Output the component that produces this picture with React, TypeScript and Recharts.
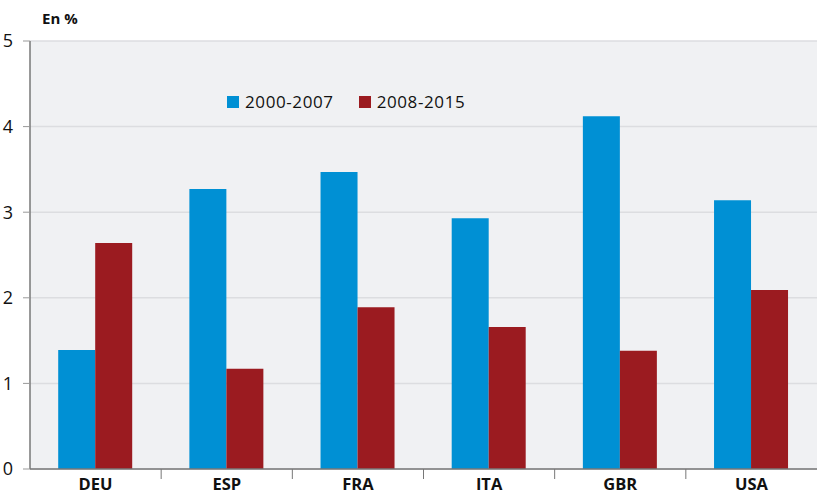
import { BarChart, Bar, XAxis, YAxis, CartesianGrid, Legend } from 'recharts'

const countries = ['DEU', 'ESP', 'FRA', 'ITA', 'GBR', 'USA']
const period1 = [1.39, 3.27, 3.47, 2.93, 4.12, 3.14]
const period2 = [2.64, 1.17, 1.89, 1.66, 1.38, 2.09]
const yTicks = [0, 1, 2, 3, 4, 5]

const data = countries.map((c, i) => ({ name: c, p1: period1[i], p2: period2[i] }))

const FONT = '"Open Sans", sans-serif'
const BAND = (817 - 30) / countries.length

function XTick(props: any) {
  const { x, y, payload, index } = props
  return (
    <g>
      <text x={x} y={y + 13} textAnchor="middle" fontFamily={FONT} fontWeight={700} fontSize={16.5} fill="#111">
        {payload.value}
      </text>
      {index < countries.length - 1 && (
        <line x1={x + BAND / 2} x2={x + BAND / 2} y1={y - 8} y2={y + 2} stroke="#777" strokeWidth={1} />
      )}
    </g>
  )
}

function LegendContent(props: any) {
  const items = props.payload || []
  return (
    <div style={{ display: 'flex', alignItems: 'center', fontFamily: FONT, fontSize: 17, letterSpacing: 0.6, color: '#111' }}>
      {items.map((it: any, i: number) => (
        <div key={it.value} style={{ display: 'flex', alignItems: 'center', marginRight: i === 0 ? 25 : 0 }}>
          <span style={{ width: 12, height: 12, background: it.color, display: 'inline-block', marginRight: 6 }} />
          <span>{it.value}</span>
        </div>
      ))}
    </div>
  )
}

export default function App() {
  return (
    <div style={{ position: 'absolute', left: 0, top: 0, width: 817, height: 495, background: '#fff' }}>
      <div style={{ position: 'absolute', left: 42, top: 8, fontFamily: FONT, fontWeight: 700, fontSize: 15, color: '#111' }}>
        En %
      </div>
      <BarChart
        width={817}
        height={495}
        data={data}
        margin={{ top: 41, right: 0, left: 0, bottom: 0 }}
        barCategoryGap="21.5%"
        barGap={0}
      >
        <CartesianGrid vertical={false} fill="#f0f1f3" stroke="#dcdde0" strokeWidth={1.5} />
        <XAxis
          dataKey="name"
          tick={<XTick />}
          tickLine={false}
          axisLine={{ stroke: '#777', strokeWidth: 1.5 }}
          interval={0}
          height={26}
        />
        <YAxis
          domain={[0, 5]}
          ticks={yTicks}
          width={30}
          axisLine={{ stroke: '#777', strokeWidth: 1.5 }}
          tickLine={{ stroke: '#999' }}
          tickSize={7}
          tickMargin={10}
          tick={{ fontFamily: FONT, fontSize: 18, fill: '#111' }}
        />
        <Legend
          verticalAlign="middle"
          align="center"
          wrapperStyle={{ position: 'absolute', left: 227, top: 90, width: 'auto' }}
          content={<LegendContent />}
        />
        <Bar dataKey="p1" name="2000-2007" fill="#0090d4" isAnimationActive={false} />
        <Bar dataKey="p2" name="2008-2015" fill="#9b1b20" isAnimationActive={false} />
      </BarChart>
    </div>
  )
}
